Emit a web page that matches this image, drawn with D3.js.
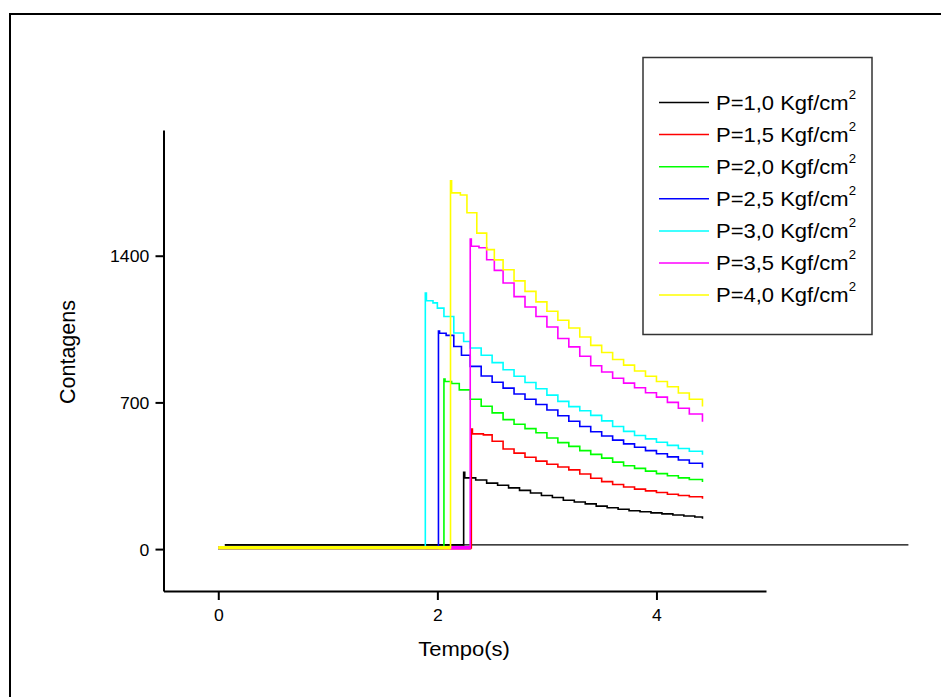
<!DOCTYPE html>
<html>
<head>
<meta charset="utf-8">
<script src="https://cdn.jsdelivr.net/npm/d3@7"></script>
<style>
body { margin: 0; background: #fff; }
svg text { font-family: "Liberation Sans", Arial, sans-serif; fill: #000; }
</style>
</head>
<body>
<div id="chart"></div>
<script>
// legend names and colours, same order as the series
const nomes = ["P=1,0 Kgf/cm", "P=1,5 Kgf/cm", "P=2,0 Kgf/cm", "P=2,5 Kgf/cm",
               "P=3,0 Kgf/cm", "P=3,5 Kgf/cm", "P=4,0 Kgf/cm"]
const cores = ["#000000", "#ff0000", "#00ff00", "#0000ff", "#00ffff", "#ff00ff", "#ffff00"]

// [tempo (s), contagens]
const serieP10 = [[0.06,20],[2.24,366],[2.25,340],[2.35,330],[2.45,315],[2.55,305],[2.65,292],[2.75,280],
  [2.85,268],[2.95,256],[3.05,246],[3.15,233],[3.25,225],[3.35,216],[3.45,205],[3.55,197],[3.65,190],
  [3.75,183],[3.85,178],[3.95,173],[4.05,168],[4.15,163],[4.25,158],[4.35,153],[4.42,145]]
const serieP15 = [[0,6],[2.31,573],[2.32,550],[2.42,545],[2.50,515],[2.60,478],[2.70,458],[2.80,438],
  [2.90,420],[3.00,405],[3.10,392],[3.20,378],[3.30,358],[3.40,338],[3.50,322],[3.60,308],[3.70,296],
  [3.80,286],[3.90,278],[4.00,270],[4.10,262],[4.20,256],[4.30,250],[4.42,240]]
const serieP20 = [[0,6],[2.06,811],[2.07,800],[2.13,790],[2.20,760],[2.30,715],[2.40,682],[2.50,650],
  [2.60,618],[2.70,596],[2.80,575],[2.90,555],[3.00,530],[3.10,508],[3.20,490],[3.30,470],[3.40,452],
  [3.50,434],[3.60,415],[3.70,398],[3.80,385],[3.90,372],[4.00,360],[4.10,350],[4.20,340],[4.30,332],[4.42,320]]
const serieP25 = [[0,6],[2.01,1040],[2.02,1030],[2.08,1020],[2.15,967],[2.22,925],[2.30,872],[2.40,826],
  [2.50,796],[2.60,768],[2.70,740],[2.80,715],[2.90,690],[3.00,664],[3.10,636],[3.20,610],[3.30,585],
  [3.40,560],[3.50,540],[3.60,520],[3.70,502],[3.80,486],[3.90,470],[4.00,455],[4.10,440],[4.20,425],
  [4.30,410],[4.42,388]]
const serieP30 = [[0,6],[1.89,1222],[1.90,1185],[1.96,1175],[2.00,1150],[2.06,1110],[2.15,1031],[2.24,991],
  [2.30,960],[2.40,925],[2.50,890],[2.60,856],[2.70,825],[2.80,795],[2.90,765],[3.00,735],[3.10,705],
  [3.20,680],[3.30,660],[3.40,638],[3.50,612],[3.60,585],[3.70,562],[3.80,542],[3.90,526],[4.00,510],
  [4.10,495],[4.20,480],[4.30,467],[4.42,450]]
const serieP35 = [[0,6],[2.30,1480],[2.31,1445],[2.38,1438],[2.45,1381],[2.52,1330],[2.60,1270],[2.70,1205],
  [2.80,1155],[2.90,1110],[3.00,1060],[3.10,1005],[3.20,965],[3.30,920],[3.40,875],[3.50,845],[3.60,815],
  [3.70,792],[3.80,770],[3.90,746],[4.00,725],[4.10,700],[4.20,672],[4.30,645],[4.42,608]]
const serieP40 = [[0,6],[2.12,1758],[2.13,1700],[2.21,1690],[2.27,1605],[2.36,1508],[2.45,1429],[2.52,1380],
  [2.60,1333],[2.70,1280],[2.80,1230],[2.90,1180],[3.00,1135],[3.10,1092],[3.20,1055],[3.30,1012],
  [3.40,972],[3.50,938],[3.60,905],[3.70,878],[3.80,850],[3.90,825],[4.00,800],[4.10,775],[4.20,745],
  [4.30,715],[4.42,680]]

// long black line just above zero
const linhaBase = [[0.06,20],[6.3,20]]

const xTicks = [0, 2, 4]
const xMinor = [1, 3, 5]
const yTicks = [0, 700, 1400]
const yMinor = [350, 1050, 1750]

const series = [serieP10, serieP15, serieP20, serieP25, serieP30, serieP35, serieP40]

const width = 941
const height = 697
const esticar = "scale(1.1,1)"   // text in the picture is a bit wide

const svg = d3.select("#chart")
    .append("svg")
    .attr("width", width)
    .attr("height", height)

svg.append("rect")
    .attr("width", width).attr("height", height)
    .attr("fill", "#fff")

// outer frame (only top and left show)
svg.append("path")
    .attr("d", `M10,${height + 5} V14 H${width + 5}`)
    .attr("fill", "none")
    .attr("stroke", "#000")
    .attr("stroke-width", 2)

const x = d3.scaleLinear().domain([-0.5, 5]).range([163.5, 766])
const y = d3.scaleLinear().domain([-200, 2000]).range([591, 130])

// axes
const gx = svg.append("g").attr("transform", "translate(0,591)")
gx.call(d3.axisBottom(x).tickValues(xMinor).tickSize(5).tickSizeOuter(0).tickFormat(""))
gx.call(d3.axisBottom(x).tickValues(xTicks).tickSize(9).tickSizeOuter(0).tickPadding(10)
    .tickFormat(d3.format("d")))

const gy = svg.append("g").attr("transform", "translate(163.5,0)")
gy.call(d3.axisLeft(y).tickValues(yMinor).tickSize(4).tickSizeOuter(0).tickFormat(""))
gy.call(d3.axisLeft(y).tickValues(yTicks).tickSize(8).tickSizeOuter(0).tickPadding(5)
    .tickFormat(d3.format("d")))

svg.selectAll(".domain, .tick line")
    .attr("stroke", "#000")
    .attr("stroke-width", 2)

svg.selectAll(".tick text")
    .style("font-size", "16px")
    .attr("font-family", null)
    .attr("transform", esticar)
gy.selectAll(".tick text").attr("dy", "0.38em")

// axis titles
svg.append("text")
    .attr("transform", `translate(464,656) ${esticar}`)
    .attr("text-anchor", "middle")
    .style("font-size", "20px")
    .text("Tempo(s)")

svg.append("text")
    .attr("transform", "translate(75,352) rotate(-90)")
    .attr("text-anchor", "middle")
    .style("font-size", "21.5px")
    .text("Contagens")

// data
const line = d3.line()
    .x(d => x(d[0]))
    .y(d => y(d[1]))
    .curve(d3.curveStepAfter)

svg.append("path")
    .attr("d", d3.line().x(d => x(d[0])).y(d => y(d[1]))(linhaBase))
    .attr("fill", "none")
    .attr("stroke", "#000")
    .attr("stroke-width", 1.2)

series.forEach((s, i) => {
    if (i > 0) {
        // noisy zero counts before the rise read as a thick band
        svg.append("path")
            .attr("d", d3.line().x(d => x(d[0])).y(d => y(d[1]))([s[0], [s[1][0], s[0][1]]]))
            .attr("fill", "none")
            .attr("stroke", cores[i])
            .attr("stroke-width", 3.5)
    }
    svg.append("path")
        .attr("d", line(s))
        .attr("fill", "none")
        .attr("stroke", cores[i])
        .attr("stroke-width", 1.6)
})

// legend
const leg = svg.append("g")
leg.append("rect")
    .attr("x", 643).attr("y", 57.5)
    .attr("width", 229).attr("height", 277)
    .attr("fill", "#fff")
    .attr("stroke", "#333")
    .attr("stroke-width", 1.5)

nomes.forEach((n, i) => {
    const ly = 102.5 + i * 32.1
    leg.append("line")
        .attr("x1", 659).attr("x2", 709)
        .attr("y1", ly).attr("y2", ly)
        .attr("stroke", cores[i])
        .attr("stroke-width", 1.5)
    const t = leg.append("text")
        .attr("transform", `translate(716,${ly + 7}) ${esticar}`)
        .style("font-size", "20px")
    t.append("tspan").text(n)
    t.append("tspan")
        .attr("dy", -11)
        .style("font-size", "12px")
        .text("2")
})
</script>
</body>
</html>
